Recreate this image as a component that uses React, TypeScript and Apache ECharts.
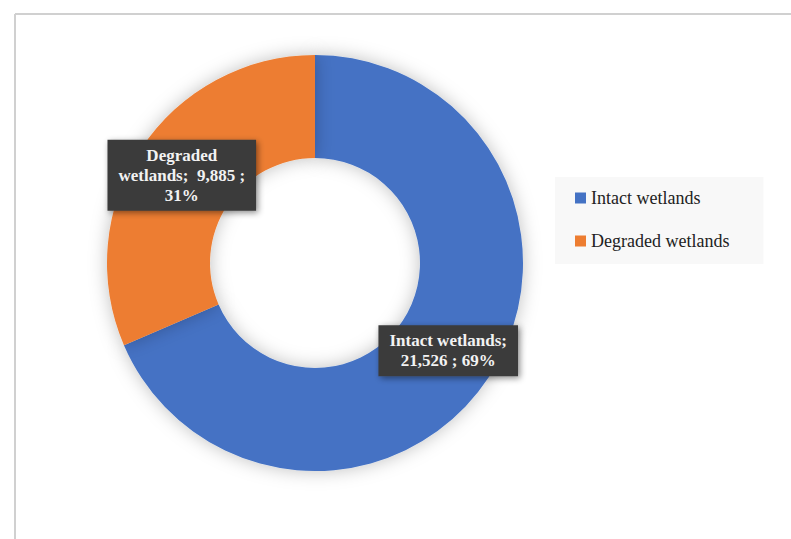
import React, { useEffect, useRef } from "react";
import * as echarts from "echarts";

const categories = ["Intact wetlands", "Degraded wetlands"];
const values = [21526, 9885];
const percents = ["69%", "31%"];
const labelTexts = ["Intact wetlands;\n21,526 ; 69%", "Degraded\nwetlands;  9,885 ;\n31%"];
const colors = ["#4472C4", "#ED7D31"];

const FONT = "'Liberation Serif', 'DejaVu Serif', serif";

export default function App() {
  const ref = useRef<HTMLDivElement>(null);
  useEffect(() => {
    const chart = echarts.init(ref.current!, null, { renderer: "svg" });
    chart.setOption({
      animation: false,
      backgroundColor: "#ffffff",
      graphic: [
        { type: "line", shape: { x1: 15, y1: 14, x2: 791, y2: 14 }, style: { stroke: "#d0d0d0", lineWidth: 2 } },
        { type: "line", shape: { x1: 15, y1: 14, x2: 15, y2: 539 }, style: { stroke: "#d0d0d0", lineWidth: 2 } },
      ],
      legend: {
        orient: "vertical",
        left: 555,
        top: 177,
        backgroundColor: "#f8f8f8",
        padding: [12, 34, 14, 20],
        itemWidth: 11,
        itemHeight: 11,
        itemGap: 25,
        icon: "rect",
        data: categories,
        textStyle: { fontFamily: FONT, fontSize: 18, color: "#222" },
      },
      series: [
        {
          type: "pie",
          center: [315, 263],
          radius: [105, 208],
          startAngle: 90,
          clockwise: true,
          avoidLabelOverlap: false,
          itemStyle: {
            shadowBlur: 18,
            shadowColor: "rgba(0,0,0,0.25)",
          },
          label: {
            show: true,
            position: "inside",
            formatter: (p: any) => labelTexts[p.dataIndex],
            fontFamily: FONT,
            fontWeight: "bold",
            fontSize: 17,
            lineHeight: 20,
            color: "#f2f2f2",
            backgroundColor: "#3b3b3b",
            padding: [6, 11, 5, 11],
            shadowBlur: 6,
            shadowColor: "rgba(0,0,0,0.45)",
            shadowOffsetX: 2,
            shadowOffsetY: 2,
            align: "center",
          },
          labelLine: { show: false },
          emphasis: { disabled: true },
          data: categories.map((c, i) => ({
            name: c,
            value: values[i],
            percent: percents[i],
            itemStyle: { color: colors[i] },
          })),
        },
      ],
    });
    return () => chart.dispose();
  }, []);
  return <div ref={ref} style={{ position: "absolute", left: 0, top: 0, width: 791, height: 539 }} />;
}
